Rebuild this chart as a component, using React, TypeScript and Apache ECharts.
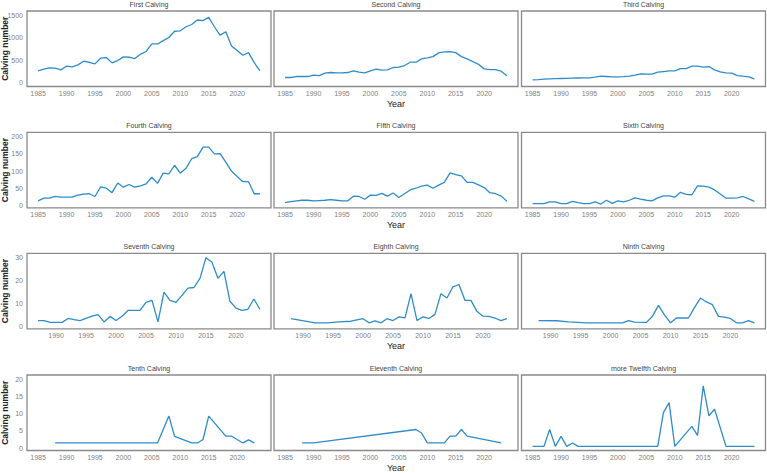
import React, { useEffect, useRef } from "react";
import * as echarts from "echarts";

// ---------- data ----------
const yearsFull = [1985, 1986, 1987, 1988, 1989, 1990, 1991, 1992, 1993, 1994, 1995, 1996, 1997, 1998, 1999, 2000, 2001, 2002, 2003, 2004, 2005, 2006, 2007, 2008, 2009, 2010, 2011, 2012, 2013, 2014, 2015, 2016, 2017, 2018, 2019, 2020, 2021, 2022, 2023, 2024];

const firstCalving = [259, 296, 325, 318, 281, 362, 347, 392, 473, 450, 414, 540, 554, 436, 488, 569, 562, 532, 630, 690, 857, 857, 930, 1000, 1140, 1150, 1240, 1290, 1390, 1375, 1450, 1240, 1050, 1130, 810, 710, 606, 665, 443, 260];
const secondCalving = [111, 111, 133, 133, 133, 163, 155, 207, 222, 214, 214, 222, 259, 229, 214, 259, 296, 273, 281, 333, 340, 377, 451, 451, 525, 547, 576, 658, 680, 687, 665, 576, 525, 466, 406, 303, 288, 288, 251, 148];
const thirdCalving = [59, 66, 74, 80, 85, 89, 92, 96, 100, 103, 103, 120, 140, 133, 126, 126, 130, 140, 165, 192, 185, 185, 229, 244, 259, 259, 310, 310, 362, 362, 340, 355, 281, 236, 214, 207, 155, 140, 126, 81];

const fourthCalving = [13, 21, 21, 26, 24, 24, 24, 30, 33, 34, 26, 54, 50, 37, 65, 53, 61, 53, 57, 63, 82, 64, 94, 92, 117, 94, 108, 136, 142, 170, 170, 150, 151, 126, 100, 84, 69, 69, 34, 34];
const fifthCalving = [8, 11, 13, 15, 15, 13, 14, 15, 17, 15, 13, 13, 27, 26, 18, 30, 29, 35, 27, 36, 23, 34, 45, 50, 56, 59, 50, 59, 67, 95, 90, 86, 67, 67, 60, 52, 37, 34, 27, 12];
const sixthCalving = [5, 5, 5, 10, 10, 5, 5, 12, 8, 5, 5, 10, 4, 15, 6, 13, 10, 15, 22, 18, 15, 13, 22, 28, 28, 24, 38, 32, 31, 57, 56, 53, 45, 33, 21, 21, 22, 26, 19, 12];

const seventhYears = [1987, 1988, 1989, 1990, 1991, 1992, 1993, 1994, 1995, 1996, 1997, 1998, 1999, 2000, 2001, 2002, 2003, 2004, 2005, 2006, 2007, 2008, 2009, 2010, 2011, 2012, 2013, 2014, 2015, 2016, 2017, 2018, 2019, 2020, 2021, 2022, 2023, 2024];
const seventhCalving = [2.6, 2.6, 1.8, 1.8, 1.8, 3.5, 3, 2.6, 3.5, 4.5, 5.2, 2, 4.4, 2.6, 4.5, 7, 7, 7, 10.5, 11.4, 2, 15, 11.4, 10.5, 13.6, 16.7, 17, 21, 30, 28, 21, 24, 11, 8, 7, 7.5, 12, 7.5];

const eighthYears = [1988, 1992, 1994, 1996, 1998, 2000, 2001, 2002, 2003, 2004, 2005, 2006, 2007, 2008, 2009, 2010, 2011, 2012, 2013, 2014, 2015, 2016, 2017, 2018, 2019, 2020, 2021, 2022, 2023, 2024];
const eighthCalving = [3.4, 1.6, 1.6, 2, 2.3, 3.4, 1.6, 2.5, 1.6, 3.4, 2.6, 4.2, 3.8, 14.3, 2.6, 4.2, 3.5, 5.3, 14.3, 12.4, 17.3, 18.3, 11.4, 11.4, 6.6, 4.5, 4.4, 3.7, 2.6, 3.4];

const ninthYears = [1988, 1991, 1993, 1996, 1999, 2002, 2003, 2004, 2006, 2007, 2008, 2009, 2010, 2011, 2013, 2014, 2015, 2016, 2017, 2018, 2019, 2020, 2021, 2022, 2023, 2024];
const ninthCalving = [2.6, 2.5, 2.0, 1.6, 1.6, 1.6, 2.6, 1.9, 1.8, 4.5, 9.2, 5.1, 1.6, 3.7, 3.7, 8.2, 12.4, 10.7, 9.5, 4.4, 4.1, 3.5, 1.6, 1.6, 2.6, 1.6];

const tenthYears = [1988, 2006, 2008, 2009, 2012, 2013, 2014, 2015, 2018, 2019, 2021, 2022, 2023];
const tenthCalving = [1.5, 1.5, 9.3, 3.4, 1.5, 1.5, 2.5, 9.3, 3.5, 3.5, 1.5, 2.4, 1.5];

const eleventhYears = [1988, 1990, 2008, 2009, 2010, 2013, 2014, 2015, 2016, 2017, 2023];
const eleventhCalving = [1.5, 1.5, 5.4, 4.4, 1.5, 1.5, 3.5, 3.5, 5.4, 3.5, 1.5];

const twelfthYears = [1985, 1987, 1988, 1989, 1990, 1991, 1992, 1993, 2007, 2008, 2009, 2010, 2013, 2014, 2015, 2016, 2017, 2019, 2024];
const twelfthCalving = [0.5, 0.5, 5.4, 0.5, 3.4, 0.5, 1.5, 0.5, 0.5, 10.3, 13.2, 0.5, 6.3, 3.7, 18.1, 9.4, 11.3, 0.5, 0.5];

const panelTitles = ["First Calving", "Second Calving", "Third Calving", "Fourth Calving", "Fifth Calving", "Sixth Calving", "Seventh Calving", "Eighth Calving", "Ninth Calving", "Tenth Calving", "Eleventh Calving", "more Twelfth Calving"];

const xTicksA = [1985, 1990, 1995, 2000, 2005, 2010, 2015, 2020];
const xTicksB = [1990, 1995, 2000, 2005, 2010, 2015, 2020];
const yTicksRow1 = [0, 500, 1000, 1500];
const yTicksRow2 = [0, 50, 100, 150, 200];
const yTicksRow3 = [0, 10, 20, 30];
const yTicksRow4 = [0, 5, 10, 15, 20];

const yAxisTitle = "Calving number";
const xAxisTitle = "Year";

// ---------- layout ----------
const FONT = "'Liberation Sans Narrow', 'Arial Narrow', 'Liberation Sans', Arial, sans-serif";
const LINE_COLOR = "#2e8ccb";
const colLefts = [27, 274, 521.5];
const panelW = 244;
const rowTops = [11, 132.3, 253.3, 375];
const panelH = 75.5;

const rows = [
  { xMin: 1983.05, xMax: 2025.95, xTicks: xTicksA, yMin: -89, yMax: 1590, yTicks: yTicksRow1 },
  { xMin: 1983.05, xMax: 2025.95, xTicks: xTicksA, yMin: -7, yMax: 213, yTicks: yTicksRow2 },
  { xMin: 1985.15, xMax: 2025.85, xTicks: xTicksB, yMin: -1.0, yMax: 31.9, yTicks: yTicksRow3 },
  { xMin: 1983.05, xMax: 2025.95, xTicks: xTicksA, yMin: -0.7, yMax: 21.25, yTicks: yTicksRow4 },
];

const seriesData: [number[], number[]][] = [
  [yearsFull, firstCalving],
  [yearsFull, secondCalving],
  [yearsFull, thirdCalving],
  [yearsFull, fourthCalving],
  [yearsFull, fifthCalving],
  [yearsFull, sixthCalving],
  [seventhYears, seventhCalving],
  [eighthYears, eighthCalving],
  [ninthYears, ninthCalving],
  [tenthYears, tenthCalving],
  [eleventhYears, eleventhCalving],
  [twelfthYears, twelfthCalving],
];

const plain = (v: number) => String(v);

function buildOption() {
  const grid: any[] = [];
  const xAxis: any[] = [];
  const yAxis: any[] = [];
  const series: any[] = [];
  const graphic: any[] = [];

  for (let i = 0; i < 12; i++) {
    const r = Math.floor(i / 3);
    const c = i % 3;
    const rc = rows[r];
    grid.push({
      left: colLefts[c],
      top: rowTops[r],
      width: panelW,
      height: panelH,
      show: true,
      borderColor: "#8a8a8a",
      borderWidth: 1.3,
      backgroundColor: "transparent",
      containLabel: false,
    });
    xAxis.push({
      type: "value",
      gridIndex: i,
      min: rc.xMin,
      max: rc.xMax,
      axisLine: { show: false },
      axisTick: { show: false },
      splitLine: { show: false },
      axisLabel: {
        customValues: rc.xTicks,
        formatter: plain,
        margin: 3.5,
        fontSize: 7,
        color: "#808080",
        fontFamily: FONT,
      },
    });
    yAxis.push({
      type: "value",
      gridIndex: i,
      min: rc.yMin,
      max: rc.yMax,
      axisLine: { show: false },
      axisTick: { show: false },
      splitLine: { show: false },
      axisLabel: {
        show: c === 0,
        customValues: rc.yTicks,
        formatter: plain,
        margin: 4,
        fontSize: 7,
        color: "#808080",
        fontFamily: FONT,
      },
    });
    const [xs, ys] = seriesData[i];
    series.push({
      type: "line",
      xAxisIndex: i,
      yAxisIndex: i,
      data: xs.map((x, k) => [x, ys[k]]),
      showSymbol: false,
      symbol: "none",
      lineStyle: { color: LINE_COLOR, width: 1.3 },
      itemStyle: { color: LINE_COLOR },
      silent: true,
    });
    graphic.push({
      type: "text",
      x: colLefts[c] + panelW / 2,
      y: rowTops[r] - 6.5,
      style: {
        text: panelTitles[i],
        align: "center",
        verticalAlign: "middle",
        fontSize: 7,
        fill: "#444",
        fontFamily: FONT,
      },
    });
  }

  for (let r = 0; r < 4; r++) {
    graphic.push({
      type: "text",
      x: 4.5,
      y: rowTops[r] + panelH / 2,
      rotation: Math.PI / 2,
      style: {
        text: yAxisTitle,
        align: "center",
        verticalAlign: "middle",
        fontSize: 8.5,
        fontWeight: "bold",
        fill: "#222",
        fontFamily: "'Liberation Sans', Arial, sans-serif",
      },
    });
    graphic.push({
      type: "text",
      x: colLefts[1] + panelW / 2,
      y: rowTops[r] + panelH + 17.5,
      style: {
        text: xAxisTitle,
        align: "center",
        verticalAlign: "middle",
        fontSize: 9,
        fill: "#222",
        fontFamily: FONT,
      },
    });
  }

  return { animation: false, backgroundColor: "#fff", grid, xAxis, yAxis, series, graphic };
}

export default function App() {
  const ref = useRef<HTMLDivElement>(null);
  useEffect(() => {
    if (!ref.current) return;
    const chart = echarts.init(ref.current, null, { renderer: "svg" });
    chart.setOption(buildOption());
    return () => chart.dispose();
  }, []);
  return (
    <div
      ref={ref}
      style={{ position: "fixed", left: 0, top: 0, width: 767, height: 473, background: "#fff" }}
    />
  );
}
